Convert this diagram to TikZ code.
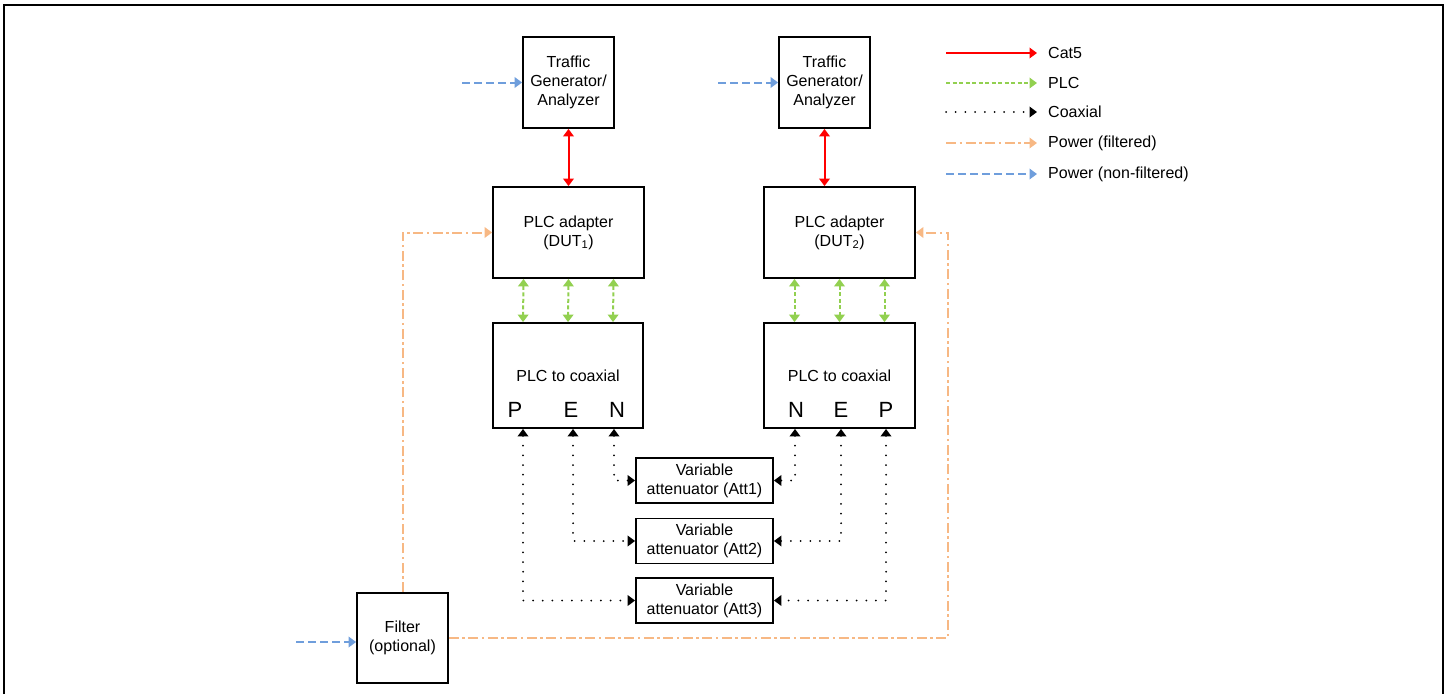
\documentclass[tikz,border=0pt]{standalone}
\usepackage{fontspec}
\setmainfont{Liberation Sans}
\usetikzlibrary{arrows.meta}

\definecolor{plcgreen}{RGB}{146,208,80}
\definecolor{pwrorange}{RGB}{247,184,132}
\definecolor{pwrblue}{RGB}{111,158,220}

\tikzset{
    blk/.style={draw=black, line width=1.8pt, inner sep=0pt, align=center, font=\fontsize{16}{19}\selectfont},
    lbl/.style={inner sep=0pt, font=\fontsize{16}{19}\selectfont},
    pinlbl/.style={inner sep=0pt, font=\fontsize{22}{24}\selectfont},
    cat/.style={draw=red, line width=2pt},
    plc/.style={draw=plcgreen, line width=2pt, dash pattern=on 4pt off 2.5pt},
    coax/.style={draw=black, line width=2pt, dash pattern=on 0pt off 9.7pt, line cap=round},
    pwrf/.style={draw=pwrorange, line width=2pt, dash pattern=on 10pt off 3.5pt on 2.5pt off 3.5pt},
    pwrn/.style={draw=pwrblue, line width=2pt, dash pattern=on 8pt off 4pt}
}

\begin{document}
\begin{tikzpicture}[x=1pt, y=-1pt, >={Triangle[length=7.5pt,width=10.5pt]}]
    \useasboundingbox (0,0) rectangle (1447,694);
    \draw[line width=1.8pt] (4,694) -- (4,5) -- (1443,5) -- (1443,694);
    %
    \node[blk, minimum width=91pt, minimum height=91pt] (tg1) at (568.5,82.5) {Traffic\\Generator/\\Analyzer};
    \node[blk, minimum width=91pt, minimum height=91pt] (tg2) at (824.5,82.5) {Traffic\\Generator/\\Analyzer};
    \node[blk, minimum width=151pt, minimum height=91pt] (pa1) at (568.5,232.5) {PLC adapter\\(DUT\textsubscript{1})};
    \node[blk, minimum width=151pt, minimum height=91pt] (pa2) at (839.5,232.5) {PLC adapter\\(DUT\textsubscript{2})};
    \node[blk, minimum width=150pt, minimum height=105pt] (pc1) at (568,375.5) {PLC to coaxial};
    \node[blk, minimum width=151pt, minimum height=105pt] (pc2) at (839.5,375.5) {PLC to coaxial};
    \node[blk, minimum width=137pt, minimum height=45pt] (att1) at (704.5,480.5) {Variable\\attenuator (Att1)};
    \node[blk, minimum width=137pt, minimum height=45pt] (att2) at (704.5,541) {Variable\\attenuator (Att2)};
    \node[blk, minimum width=137pt, minimum height=45pt] (att3) at (704.5,600.5) {Variable\\attenuator (Att3)};
    \node[blk, minimum width=91pt, minimum height=90pt] (flt) at (402.5,638) {Filter\\(optional)};
    %
    \node[pinlbl] (p1) at (515,410) {P};
    \node[pinlbl] (e1) at (571,410) {E};
    \node[pinlbl] (n1) at (617,410) {N};
    \node[pinlbl] (n2) at (796,410) {N};
    \node[pinlbl] (e2) at (841,410) {E};
    \node[pinlbl] (p2) at (886,410) {P};
    %
    \draw[cat,<->] (tg1.south) -- (tg1.south |- pa1.north);
    \draw[cat,<->] (tg2.south) -- (tg2.south |- pa2.north);
    \foreach \dx in {-45,0,45}{
        \draw[plc,<->] ([xshift=\dx pt]pa1.south) -- ([xshift=\dx pt]pc1.north);
        \draw[plc,<->] ([xshift=\dx pt]pa2.south) -- ([xshift=\dx pt]pc2.north);
    }
    %
    \draw[coax,<->] ([xshift=46pt]pc1.south) |- (att1.west);
    \draw[coax,<->] ([xshift=5pt]pc1.south) |- (att2.west);
    \draw[coax,<->] ([xshift=-45pt]pc1.south) |- (att3.west);
    \draw[coax,<->] ([xshift=-44.5pt]pc2.south) |- (att1.east);
    \draw[coax,<->] ([xshift=1.5pt]pc2.south) |- (att2.east);
    \draw[coax,<->] ([xshift=46.5pt]pc2.south) |- (att3.east);
    %
    \coordinate (pw) at (948,638);
    \draw[pwrf,->] (flt.north) |- (pa1.west);
    \draw[pwrf,->] (flt.east) -- (pw) |- (pa2.east);
    %
    \coordinate (in1) at (462,82.5);
    \coordinate (in2) at (718,82.5);
    \coordinate (in3) at (296,642);
    \draw[pwrn,->] (in1) -- (tg1.west);
    \draw[pwrn,->] (in2) -- (tg2.west);
    \draw[pwrn,->] (in3) -- (in3 -| flt.west);
    %
    \foreach \s/\t/\y [count=\i] in {cat/Cat5/53, plc/PLC/83, coax/Coaxial/112, pwrf/{Power (filtered)}/143, pwrn/{Power (non-filtered)}/174}{
        \coordinate (lg\i) at (946,\y);
        \node[lbl, anchor=west] (lt\i) at (1048,\y) {\t};
        \draw[\s,->] (lg\i) -- ([xshift=-11pt]lt\i.west);
    }
\end{tikzpicture}
\end{document}
